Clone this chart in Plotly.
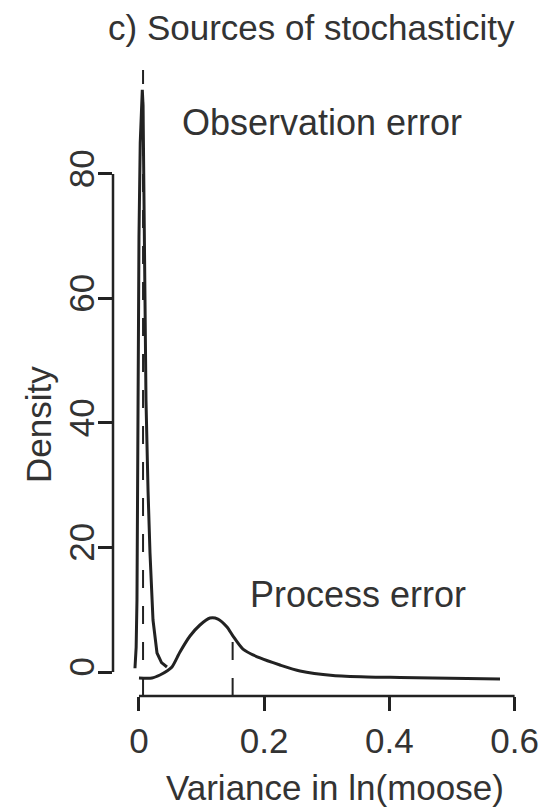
import plotly.graph_objects as go

# ---- data ----
obs_x = [-0.0064, -0.0045, -0.0032, -0.0016, 0.0, 0.002, 0.0045, 0.0053, 0.0065,
         0.008, 0.0096, 0.0112, 0.0145, 0.0176, 0.0224, 0.0288, 0.036, 0.0447]
obs_y = [0.6, 4, 11.6, 43.7, 70, 85, 92.5, 93.5, 91,
         76, 57, 43.7, 29, 19.1, 8.35, 3.05, 1.5, 0.8]

proc_x = [0.0, 0.0208, 0.0335, 0.0447, 0.0527, 0.0655, 0.0815, 0.0974, 0.1134,
          0.1262, 0.1406, 0.1502, 0.1661, 0.1933, 0.2252, 0.2572, 0.3099, 0.3642,
          0.4169, 0.4696, 0.5240, 0.5767]
proc_y = [-0.96, -0.96, -0.48, 0.16, 0.8, 3.21, 5.78, 7.55, 8.67,
          8.51, 7.23, 5.78, 3.69, 2.25, 1.12, 0.16, -0.56, -0.80,
          -0.88, -0.96, -1.04, -1.12]

obs_mean = 0.0065
proc_mean = 0.1496
proc_mean_height = 5.4

x_ticks = [0, 0.2, 0.4, 0.6]
x_tick_text = ["0", "0.2", "0.4", "0.6"]
y_ticks = [0, 20, 40, 60, 80]
y_tick_text = ["0", "20", "40", "60", "80"]

title = "c) Sources of stochasticity"
x_title = "Variance in ln(moose)"
y_title = "Density"
label_obs = "Observation error"
label_proc = "Process error"

# ---- layout geometry ----
W, H = 552, 811
L, R, T, B = 113, 20, 70, 115
x_range = [-0.0415, 0.6278]
y_range = [-3.855, 96.7]

FONT = "Liberation Sans, Arial, Helvetica, sans-serif"
INK = "#222222"
TXT = "#333333"

fig = go.Figure()

fig.add_trace(go.Scatter(x=obs_x, y=obs_y, mode="lines",
                         line=dict(color=INK, width=3), hoverinfo="skip"))
fig.add_trace(go.Scatter(x=proc_x, y=proc_y, mode="lines",
                         line=dict(color=INK, width=3, shape="spline", smoothing=0.7),
                         hoverinfo="skip"))
fig.add_trace(go.Scatter(x=[obs_mean, obs_mean], y=[y_range[0], y_range[1]], mode="lines",
                         line=dict(color=INK, width=2, dash="18px,18px"), hoverinfo="skip"))
fig.add_trace(go.Scatter(x=[proc_mean, proc_mean], y=[y_range[0], proc_mean_height], mode="lines",
                         line=dict(color=INK, width=2, dash="18px,18px"), hoverinfo="skip"))

# R-style axis lines spanning only the tick range
fig.add_shape(type="line", xref="x", yref="paper", x0=x_ticks[0], x1=x_ticks[-1], y0=0, y1=0,
              line=dict(color=INK, width=2.5))
fig.add_shape(type="line", xref="paper", yref="y", x0=0, x1=0, y0=y_ticks[0], y1=y_ticks[-1],
              line=dict(color=INK, width=2.5))

pw = W - L - R
ph = H - T - B


def px2paper(px, py):
    return (px - L) / pw, (H - B - py) / ph


tx, ty = px2paper(311, 28)
xtx, xty = px2paper(335, 787)
ytx, yty = px2paper(38, 425)

fig.add_annotation(text=title, xref="paper", yref="paper", x=tx, y=ty, showarrow=False,
                   xanchor="center", yanchor="middle", font=dict(size=35, color=TXT, family=FONT))
fig.add_annotation(text=x_title, xref="paper", yref="paper", x=xtx, y=xty, showarrow=False,
                   xanchor="center", yanchor="middle", font=dict(size=35, color=TXT, family=FONT))
fig.add_annotation(text=y_title, xref="paper", yref="paper", x=ytx, y=yty, showarrow=False,
                   textangle=-90, xanchor="center", yanchor="middle",
                   font=dict(size=35, color=TXT, family=FONT))
fig.add_annotation(text=label_obs, xref="x", yref="y", x=0.2923, y=88.3, showarrow=False,
                   xanchor="center", yanchor="middle", font=dict(size=36, color=TXT, family=FONT))
fig.add_annotation(text=label_proc, xref="x", yref="y", x=0.3506, y=12.45, showarrow=False,
                   xanchor="center", yanchor="middle", font=dict(size=36, color=TXT, family=FONT))

fig.update_layout(
    width=W, height=H,
    margin=dict(l=L, r=R, t=T, b=B, pad=0),
    paper_bgcolor="white", plot_bgcolor="white",
    showlegend=False,
    xaxis=dict(range=x_range, tickvals=x_ticks, ticktext=x_tick_text,
               ticks="outside", ticklen=14, tickwidth=2.5, tickcolor=INK,
               showline=False, showgrid=False, zeroline=False,
               tickfont=dict(size=35, color=TXT, family=FONT), fixedrange=True),
    yaxis=dict(range=y_range, tickvals=y_ticks, ticktext=y_tick_text,
               ticks="outside", ticklen=14, tickwidth=2.5, tickcolor=INK, tickangle=-90,
               ticklabelstandoff=-10,
               showline=False, showgrid=False, zeroline=False,
               tickfont=dict(size=35, color=TXT, family=FONT), fixedrange=True),
)

fig.write_html("out.html")
